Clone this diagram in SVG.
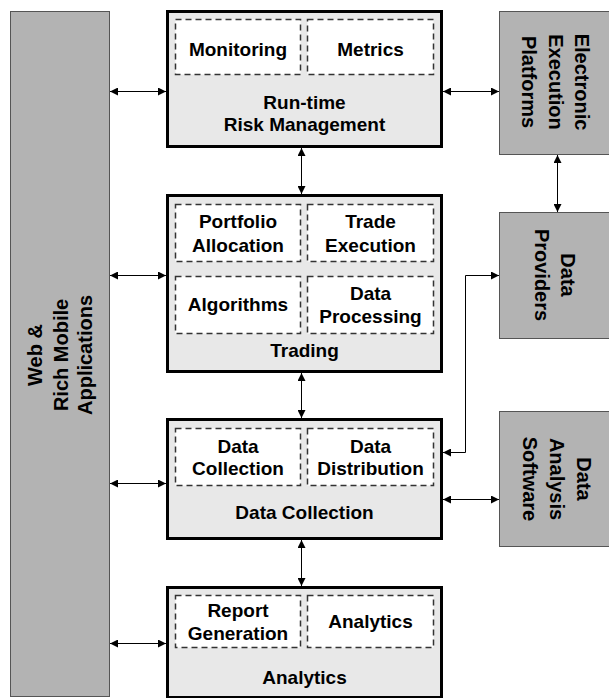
<svg xmlns="http://www.w3.org/2000/svg" width="609" height="698" viewBox="0 0 609 698">
<defs>
<style>
.side{fill:#b3b3b3;stroke:#555;stroke-width:1}
.main{fill:#e8e8e8;stroke:#000;stroke-width:3}
.sub{fill:#fff;stroke:#333;stroke-width:1.5;stroke-dasharray:6 4}
text{font-family:"Liberation Sans",Arial,sans-serif;font-weight:bold;fill:#000;text-anchor:middle}
.t19{font-size:19px}
.t20{font-size:20px}
.con{fill:none;stroke:#000;stroke-width:1}
</style>
<marker id="ah" viewBox="0 0 10 10" refX="10" refY="5" markerWidth="9" markerHeight="8" markerUnits="userSpaceOnUse" orient="auto-start-reverse">
<path d="M0,0 L10,5 L0,10 z" fill="#000"/>
</marker>
</defs>
<rect width="609" height="698" fill="#fff"/>

<g id="web">
<rect class="side" x="10.5" y="11.5" width="99" height="685"/>
<text class="t20" transform="translate(42,355) rotate(-90)">Web &amp;</text>
<text class="t20" transform="translate(68,355) rotate(-90)">Rich Mobile</text>
<text class="t20" transform="translate(92,355) rotate(-90)">Applications</text>
</g>

<g id="runtime">
<rect class="main" x="167.5" y="11.5" width="274" height="135"/>
<rect class="sub" x="175.5" y="19.5" width="125" height="55"/>
<text class="t19" x="238" y="56">Monitoring</text>
<rect class="sub" x="307.5" y="19.5" width="126" height="55"/>
<text class="t19" x="370.5" y="56">Metrics</text>
<text class="t19" x="304.5" y="109">Run-time</text>
<text class="t19" x="304.5" y="131">Risk Management</text>
</g>

<g id="trading">
<rect class="main" x="167.5" y="195.5" width="274" height="176"/>
<rect class="sub" x="175.5" y="204.5" width="125" height="57"/>
<text class="t19" x="238" y="228">Portfolio</text>
<text class="t19" x="238" y="252">Allocation</text>
<rect class="sub" x="307.5" y="204.5" width="126" height="57"/>
<text class="t19" x="370.5" y="228">Trade</text>
<text class="t19" x="370.5" y="252">Execution</text>
<rect class="sub" x="175.5" y="276.5" width="125" height="57"/>
<text class="t19" x="238" y="311">Algorithms</text>
<rect class="sub" x="307.5" y="276.5" width="126" height="57"/>
<text class="t19" x="370.5" y="300">Data</text>
<text class="t19" x="370.5" y="323">Processing</text>
<text class="t19" x="304.5" y="357">Trading</text>
</g>

<g id="datacollection">
<rect class="main" x="167.5" y="419.5" width="274" height="119"/>
<rect class="sub" x="175.5" y="428.5" width="125" height="57"/>
<text class="t19" x="238" y="453">Data</text>
<text class="t19" x="238" y="475">Collection</text>
<rect class="sub" x="307.5" y="428.5" width="126" height="57"/>
<text class="t19" x="370.5" y="453">Data</text>
<text class="t19" x="370.5" y="475">Distribution</text>
<text class="t19" x="304.5" y="519">Data Collection</text>
</g>

<g id="analytics">
<rect class="main" x="167.5" y="587.5" width="274" height="110"/>
<rect class="sub" x="175.5" y="595.5" width="125" height="52"/>
<text class="t19" x="238" y="617">Report</text>
<text class="t19" x="238" y="640">Generation</text>
<rect class="sub" x="307.5" y="595.5" width="126" height="52"/>
<text class="t19" x="370.5" y="628">Analytics</text>
<text class="t19" x="304.5" y="684">Analytics</text>
</g>

<g id="eep">
<rect class="side" x="499.5" y="11.5" width="110" height="143"/>
<text class="t20" transform="translate(575,82) rotate(90)">Electronic</text>
<text class="t20" transform="translate(548.5,82) rotate(90)">Execution</text>
<text class="t20" transform="translate(522,82) rotate(90)">Platforms</text>
</g>

<g id="providers">
<rect class="side" x="499.5" y="212.5" width="110" height="126"/>
<text class="t20" transform="translate(561,275) rotate(90)">Data</text>
<text class="t20" transform="translate(535,275) rotate(90)">Providers</text>
</g>

<g id="software">
<rect class="side" x="499.5" y="411.5" width="110" height="135"/>
<text class="t20" transform="translate(577,479) rotate(90)">Data</text>
<text class="t20" transform="translate(550,479) rotate(90)">Analysis</text>
<text class="t20" transform="translate(523,479) rotate(90)">Software</text>
</g>

<g id="connectors">
<path class="con" d="M110,91.5 H166" marker-start="url(#ah)" marker-end="url(#ah)"/>
<path class="con" d="M110,275.5 H166" marker-start="url(#ah)" marker-end="url(#ah)"/>
<path class="con" d="M110,483.5 H166" marker-start="url(#ah)" marker-end="url(#ah)"/>
<path class="con" d="M110,643.5 H166" marker-start="url(#ah)" marker-end="url(#ah)"/>
<path class="con" d="M301.5,148 V194" marker-start="url(#ah)" marker-end="url(#ah)"/>
<path class="con" d="M301.5,373 V418" marker-start="url(#ah)" marker-end="url(#ah)"/>
<path class="con" d="M301.5,540 V586" marker-start="url(#ah)" marker-end="url(#ah)"/>
<path class="con" d="M443,91.5 H499" marker-start="url(#ah)" marker-end="url(#ah)"/>
<path class="con" d="M557.5,155 V212" marker-start="url(#ah)" marker-end="url(#ah)"/>
<path class="con" d="M443,452.5 H465.5 V275.5 H499" marker-start="url(#ah)" marker-end="url(#ah)"/>
<path class="con" d="M443,499.5 H499" marker-start="url(#ah)" marker-end="url(#ah)"/>
</g>
</svg>
